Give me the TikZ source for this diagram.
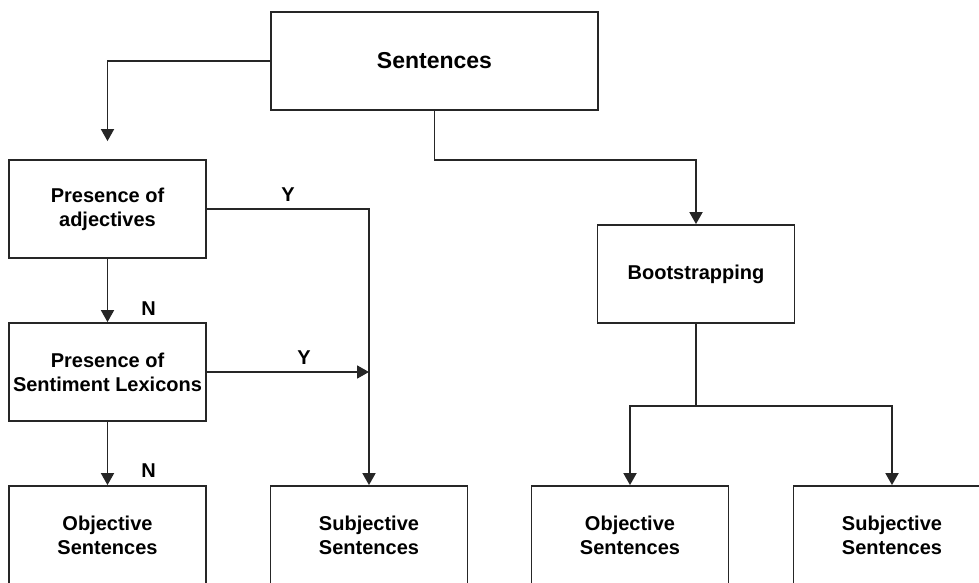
\documentclass[tikz,border=0pt]{standalone}
\usepackage{fontspec}
\setmainfont{Liberation Sans}
\usetikzlibrary{positioning,arrows.meta}

\tikzstyle{block}=[rectangle,draw=black!85,minimum width=197pt,minimum height=98pt,inner sep=0pt,align=center,text centered,font=\fontsize{20}{24}\selectfont\bfseries]
\tikzstyle{answer}=[inner sep=0pt,font=\fontsize{20}{24}\selectfont\bfseries]

\begin{document}
\begin{tikzpicture}[x=1pt,y=-1pt,line width=1.8pt,>={Triangle[width=13pt,length=12pt]},node distance=163pt]
\useasboundingbox (0,0) rectangle (979,583);
\clip (0,0) rectangle (979,583);
\node(sentences)[block,minimum width=327pt,font=\fontsize{23}{27}\selectfont\bfseries] at (434.5,61){Sentences};
\node(adjectives)[block] at (107.5,209){Presence of\\adjectives};
\node(lexicons)[block,below of=adjectives]{Presence of\\Sentiment Lexicons};
\node(objleft)[block,below of=lexicons]{Objective\\Sentences};
\node(subjleft)[block] at (369,535){Subjective\\Sentences};
\node(bootstrap)[block] at (696,274){Bootstrapping};
\node(objright)[block] at (630,535){Objective\\Sentences};
\node(subjright)[block] at (892,535){Subjective\\Sentences};
\coordinate(joint) at (subjleft.north |- lexicons.east);
\draw[->,draw=black!85,shorten >=18pt](sentences.west) -| (adjectives.north);
\draw[->,draw=black!85](sentences.south) -- ++(0,49) -| (bootstrap.north);
\draw[->,draw=black!85](adjectives.east) -| node[answer,pos=0.25,above=7pt]{Y} (subjleft.north);
\draw[->,draw=black!85](lexicons.east) -- node[answer,pos=0.6,above=7pt]{Y} (joint);
\draw[->,draw=black!85](adjectives) -- node[answer,pos=0.78,right=33pt]{N} (lexicons);
\draw[->,draw=black!85](lexicons) -- node[answer,pos=0.77,right=33pt]{N} (objleft);
\draw[draw=black!85](bootstrap.south) -- ++(0,82) coordinate(split);
\draw[->,draw=black!85](split) -| (objright.north);
\draw[->,draw=black!85](split) -| (subjright.north);
\end{tikzpicture}
\end{document}
